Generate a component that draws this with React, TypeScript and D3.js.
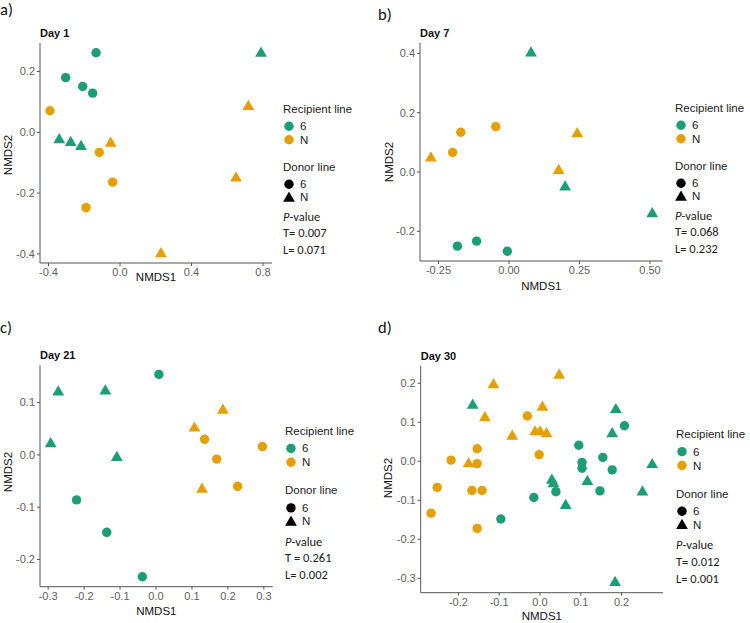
import React from "react";
import * as d3 from "d3";

const GREEN = "#1B9E77";
const ORANGE = "#E69F00";

// [NMDS1, NMDS2, recipient line, donor line]
type Pt = [number, number, string, string];

const day1Points: Pt[] = [
  [-0.134, 0.262, "6", "6"], [-0.304, 0.18, "6", "6"], [-0.209, 0.151, "6", "6"], [-0.153, 0.129, "6", "6"],
  [-0.392, 0.071, "N", "6"], [-0.116, -0.066, "N", "6"], [-0.041, -0.164, "N", "6"], [-0.19, -0.248, "N", "6"],
  [-0.34, -0.02, "6", "N"], [-0.276, -0.029, "6", "N"], [-0.218, -0.042, "6", "N"], [0.789, 0.265, "6", "N"],
  [-0.052, -0.031, "N", "N"], [0.718, 0.09, "N", "N"], [0.649, -0.146, "N", "N"], [0.229, -0.395, "N", "N"],
];

const day7Points: Pt[] = [
  [0.078, 0.406, "6", "N"], [0.199, -0.046, "6", "N"], [0.508, -0.136, "6", "N"],
  [-0.171, 0.134, "N", "6"], [-0.2, 0.066, "N", "6"], [-0.047, 0.153, "N", "6"],
  [-0.277, 0.052, "N", "N"], [0.242, 0.134, "N", "N"], [0.176, 0.01, "N", "N"],
  [-0.183, -0.25, "6", "6"], [-0.115, -0.233, "6", "6"], [-0.006, -0.267, "6", "6"],
];

const day21Points: Pt[] = [
  [0.008, 0.154, "6", "6"], [-0.221, -0.086, "6", "6"], [-0.137, -0.148, "6", "6"], [-0.038, -0.233, "6", "6"],
  [-0.272, 0.123, "6", "N"], [-0.141, 0.125, "6", "N"], [-0.293, 0.024, "6", "N"], [-0.109, -0.002, "6", "N"],
  [0.107, 0.054, "N", "N"], [0.186, 0.088, "N", "N"], [0.128, -0.063, "N", "N"],
  [0.135, 0.03, "N", "6"], [0.169, -0.008, "N", "6"], [0.227, -0.06, "N", "6"], [0.296, 0.016, "N", "6"],
];

const day30Points: Pt[] = [
  [-0.114, 0.2, "N", "N"], [0.047, 0.224, "N", "N"], [-0.135, 0.115, "N", "N"], [0.006, 0.142, "N", "N"],
  [-0.068, 0.068, "N", "N"], [-0.012, 0.079, "N", "N"], [0.0, 0.079, "N", "N"], [0.016, 0.074, "N", "N"],
  [-0.175, -0.003, "N", "N"],
  [-0.031, 0.116, "N", "6"], [-0.002, 0.017, "N", "6"], [-0.154, 0.032, "N", "6"], [-0.154, -0.006, "N", "6"],
  [-0.218, 0.003, "N", "6"], [-0.252, -0.067, "N", "6"], [-0.167, -0.075, "N", "6"], [-0.142, -0.075, "N", "6"],
  [-0.267, -0.133, "N", "6"], [-0.154, -0.172, "N", "6"],
  [-0.096, -0.148, "6", "6"], [-0.015, -0.093, "6", "6"], [0.039, -0.078, "6", "6"], [0.095, 0.041, "6", "6"],
  [0.103, -0.003, "6", "6"], [0.103, -0.018, "6", "6"], [0.154, 0.01, "6", "6"], [0.177, -0.022, "6", "6"],
  [0.147, -0.076, "6", "6"], [0.207, 0.091, "6", "6"],
  [-0.165, 0.147, "6", "N"], [0.029, -0.045, "6", "N"], [0.033, -0.054, "6", "N"], [0.063, -0.11, "6", "N"],
  [0.116, -0.048, "6", "N"], [0.186, 0.136, "6", "N"], [0.177, 0.074, "6", "N"], [0.184, -0.307, "6", "N"],
  [0.275, -0.005, "6", "N"], [0.251, -0.075, "6", "N"],
];

const day1XTicks = [-0.4, 0.0, 0.4, 0.8];
const day1YTicks = [-0.4, -0.2, 0.0, 0.2];
const day7XTicks = [-0.25, 0.0, 0.25, 0.5];
const day7YTicks = [-0.2, 0.0, 0.2, 0.4];
const day21XTicks = [-0.3, -0.2, -0.1, 0.0, 0.1, 0.2, 0.3];
const day21YTicks = [-0.2, -0.1, 0.0, 0.1];
const day30XTicks = [-0.2, -0.1, 0.0, 0.1, 0.2];
const day30YTicks = [-0.3, -0.2, -0.1, 0.0, 0.1, 0.2];

const panelTitles = ["Day 1", "Day 7", "Day 21", "Day 30"];
const panelLetters = ["a)", "b)", "c)", "d)"];
const pValueT = ["T= 0.007", "T= 0.068", "T = 0.261", "T= 0.012"];
const pValueL = ["L= 0.071", "L= 0.232", "L= 0.002", "L= 0.001"];

const SANS = "'Liberation Sans', Arial, sans-serif";
const CAL = "Carlito, Lato, 'Open Sans', sans-serif";

const color = (r: string) => (r === "6" ? GREEN : ORANGE);

function triPath(cx: number, cy: number) {
  return `M${cx},${cy - 5.3}L${cx + 5.9},${cy + 4.9}L${cx - 5.9},${cy + 4.9}Z`;
}

interface Cfg {
  idx: number;
  points: Pt[];
  xTicks: number[];
  yTicks: number[];
  fmtX: (v: number) => string;
  fmtY: (v: number) => string;
  left: number; right: number; top: number; bottom: number;
  xDomain: [number, number];
  yDomain: [number, number];
  letterX: number; letterY: number;
  xTitleY: number;
  yTitleX: number; yTitleY: number;
  lx: number; lB: number; lf: number;
}

function Panel({ c }: { c: Cfg }) {
  const x = d3.scaleLinear().domain(c.xDomain).range([c.left, c.right]);
  const y = d3.scaleLinear().domain(c.yDomain).range([c.bottom, c.top]);
  const B = c.lB;
  const f = c.lf;
  const sx = c.lx + 6;
  const tx = c.lx + 17;
  return (
    <g>
      <text x={c.letterX} y={c.letterY} fontFamily={CAL} fontSize={16.5} fill="#111">
        {panelLetters[c.idx]}
      </text>
      <text x={c.left} y={c.top - 6} fontFamily={SANS} fontSize={11} fontWeight="bold" fill="#111">
        {panelTitles[c.idx]}
      </text>
      {/* axes */}
      <line x1={c.left} x2={c.left} y1={c.top} y2={c.bottom} stroke="#555" strokeWidth={1} />
      <line x1={c.left} x2={c.right} y1={c.bottom} y2={c.bottom} stroke="#555" strokeWidth={1} />
      {c.xTicks.map((t) => (
        <g key={"x" + t}>
          <line x1={x(t)} x2={x(t)} y1={c.bottom} y2={c.bottom + 3} stroke="#555" />
          <text x={x(t)} y={c.bottom + 13} textAnchor="middle" fontFamily={SANS} fontSize={11} fill="#606060">
            {c.fmtX(t)}
          </text>
        </g>
      ))}
      {c.yTicks.map((t) => (
        <g key={"y" + t}>
          <line x1={c.left - 3} x2={c.left} y1={y(t)} y2={y(t)} stroke="#555" />
          <text x={c.left - 5} y={y(t)} dy="0.35em" textAnchor="end" fontFamily={SANS} fontSize={11} fill="#606060">
            {c.fmtY(t)}
          </text>
        </g>
      ))}
      <text x={(c.left + c.right) / 2} y={c.xTitleY} textAnchor="middle" fontFamily={SANS} fontSize={11.5} fill="#111">
        NMDS1
      </text>
      <text
        transform={`translate(${c.yTitleX},${c.yTitleY}) rotate(-90)`}
        textAnchor="middle"
        dy="0.35em"
        fontFamily={SANS}
        fontSize={11.5}
        fill="#111"
      >
        NMDS2
      </text>
      {/* points */}
      {c.points.map((p, i) =>
        p[3] === "6" ? (
          <circle key={i} cx={x(p[0])} cy={y(p[1])} r={4.7} fill={color(p[2])} />
        ) : (
          <path key={i} d={triPath(x(p[0]), y(p[1]))} fill={color(p[2])} />
        )
      )}
      {/* legend */}
      <g fontFamily={SANS} fontSize={11.5} fill="#222">
        <text x={c.lx} y={B}>Recipient line</text>
        <circle cx={sx} cy={B + 13 * f} r={4.7} fill={GREEN} />
        <text x={tx} y={B + 17 * f}>6</text>
        <circle cx={sx} cy={B + 26.5 * f} r={4.7} fill={ORANGE} />
        <text x={tx} y={B + 30.5 * f}>N</text>
        <text x={c.lx} y={B + 57.7 * f}>Donor line</text>
        <circle cx={sx} cy={B + 71 * f} r={4.7} fill="#000" />
        <text x={tx} y={B + 75 * f}>6</text>
        <path d={triPath(sx, B + 83.5 * f)} fill="#000" />
        <text x={tx} y={B + 88 * f}>N</text>
      </g>
      <g fontFamily={CAL} fontSize={12.5} fill="#222">
        <text x={c.lx} y={B + 108 * f}>
          <tspan fontStyle="italic">P</tspan>-value
        </text>
        <text x={c.lx} y={B + 124 * f}>{pValueT[c.idx]}</text>
        <text x={c.lx} y={B + 140.5 * f}>{pValueL[c.idx]}</text>
      </g>
    </g>
  );
}

const f1 = (v: number) => d3.format(".1f")(v).replace("−", "-");
const f2 = (v: number) => d3.format(".2f")(v).replace("−", "-");

export default function App() {
  const cfgs: Cfg[] = [
    {
      idx: 0, points: day1Points, xTicks: day1XTicks, yTicks: day1YTicks, fmtX: f1, fmtY: f1,
      left: 40, right: 272, top: 43, bottom: 263,
      xDomain: [-0.4476, 0.8503], yDomain: [-0.43, 0.294],
      letterX: 0, letterY: 15, xTitleY: 281, yTitleX: 8, yTitleY: 155,
      lx: 283, lB: 113.3, lf: 1,
    },
    {
      idx: 1, points: day7Points, xTicks: day7XTicks, yTicks: day7YTicks, fmtX: f2, fmtY: f1,
      left: 420, right: 662.7, top: 43, bottom: 261,
      xDomain: [-0.3156, 0.545], yDomain: [-0.3, 0.435],
      letterX: 378, letterY: 20, xTitleY: 290, yTitleX: 389, yTitleY: 162,
      lx: 675, lB: 112.3, lf: 1,
    },
    {
      idx: 2, points: day21Points, xTicks: day21XTicks, yTicks: day21YTicks, fmtX: f1, fmtY: f1,
      left: 40, right: 272.7, top: 365, bottom: 586.7,
      xDomain: [-0.3227, 0.3246], yDomain: [-0.252, 0.172],
      letterX: 0, letterY: 333, xTitleY: 615, yTitleX: 8, yTitleY: 472,
      lx: 285, lB: 435, lf: 1.027,
    },
    {
      idx: 3, points: day30Points, xTicks: day30XTicks, yTicks: day30YTicks, fmtX: f1, fmtY: f1,
      left: 420.7, right: 663, top: 365.7, bottom: 592.7,
      xDomain: [-0.2924, 0.3015], yDomain: [-0.337, 0.245],
      letterX: 378, letterY: 333, xTitleY: 620, yTitleX: 388, yTitleY: 478,
      lx: 676, lB: 438.3, lf: 1.027,
    },
  ];
  return (
    <svg
      width={750}
      height={623}
      viewBox="0 0 750 623"
      style={{ position: "absolute", left: 0, top: 0, background: "#fff" }}
    >
      <rect width={750} height={623} fill="#fff" />
      {cfgs.map((c) => (
        <Panel key={c.idx} c={c} />
      ))}
    </svg>
  );
}
